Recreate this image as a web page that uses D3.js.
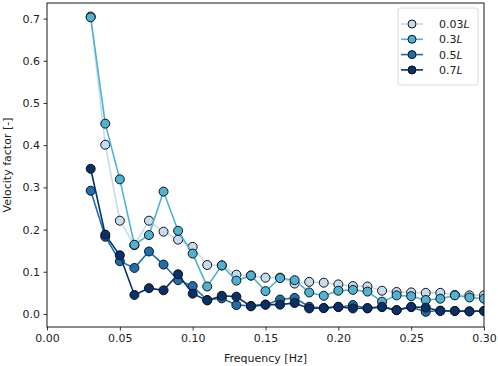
<!DOCTYPE html>
<html>
<head>
<meta charset="utf-8">
<script src="https://cdn.jsdelivr.net/npm/d3@7"></script>
<style>
  body { margin: 0; background: #fff; }
  text { font-family: "DejaVu Sans", sans-serif; fill: #222; }
</style>
</head>
<body>
<div id="chart"></div>
<script>
// frequencies [Hz]
var freq = [0.03, 0.04, 0.05, 0.06, 0.07, 0.08, 0.09, 0.10, 0.11, 0.12, 0.13, 0.14, 0.15, 0.16,
            0.17, 0.18, 0.19, 0.20, 0.21, 0.22, 0.23, 0.24, 0.25, 0.26, 0.27, 0.28, 0.29, 0.30];

var v003 = [0.705, 0.401, 0.221, 0.163, 0.221, 0.195, 0.176, 0.159, 0.116, 0.115, 0.093, 0.091, 0.086, 0.086,
            0.072, 0.076, 0.074, 0.070, 0.066, 0.065, 0.055, 0.052, 0.051, 0.050, 0.050, 0.045, 0.044, 0.044];
var v03  = [0.703, 0.451, 0.319, 0.164, 0.187, 0.290, 0.197, 0.143, 0.065, 0.115, 0.079, 0.091, 0.054, 0.085,
            0.080, 0.051, 0.043, 0.055, 0.057, 0.053, 0.029, 0.044, 0.042, 0.033, 0.036, 0.044, 0.039, 0.036];
var v05  = [0.292, 0.183, 0.125, 0.109, 0.148, 0.117, 0.080, 0.066, 0.033, 0.037, 0.021, 0.019, 0.022, 0.034,
            0.038, 0.017, 0.014, 0.016, 0.021, 0.013, 0.016, 0.009, 0.016, 0.005, 0.008, 0.007, 0.006, 0.007];
var v07  = [0.344, 0.188, 0.139, 0.045, 0.061, 0.056, 0.094, 0.048, 0.032, 0.043, 0.041, 0.018, 0.022, 0.022,
            0.026, 0.013, 0.014, 0.017, 0.013, 0.014, 0.017, 0.009, 0.017, 0.015, 0.007, 0.007, 0.006, 0.007];

var seriesNames = ["0.03", "0.3", "0.5", "0.7"];
var seriesValues = [v003, v03, v05, v07];
var colors = ["#c6dbef", "#4eb3d3", "#1f6fae", "#08306b"];

var xTicks = [0.00, 0.05, 0.10, 0.15, 0.20, 0.25, 0.30];
var yTicks = [0.0, 0.1, 0.2, 0.3, 0.4, 0.5, 0.6, 0.7];

function init() {
    var W = 498, H = 366;
    var margin = {top: 3, right: 14, bottom: 39, left: 47};
    var w = W - margin.left - margin.right;
    var h = H - margin.top - margin.bottom;

    var svg = d3.select("#chart")
        .append("svg")
        .attr("width", W)
        .attr("height", H);

    var g = svg.append("g")
        .attr("transform", "translate(" + margin.left + "," + margin.top + ")");

    var xScale = d3.scaleLinear().domain([0, 0.30]).range([0, w]);
    var yScale = d3.scaleLinear().domain([-0.031, 0.737]).range([h, 0]);

    svg.append("defs").append("clipPath").attr("id", "clip")
        .append("rect").attr("width", w).attr("height", h);

    // axes
    var xAxis = g.append("g")
        .attr("transform", "translate(0," + h + ")")
        .call(d3.axisBottom(xScale).tickValues(xTicks).tickFormat(d3.format(".2f")).tickSize(3.5).tickPadding(3.5));
    var yAxis = g.append("g")
        .call(d3.axisLeft(yScale).tickValues(yTicks).tickFormat(d3.format(".1f")).tickSize(3.5).tickPadding(3.5));
    [xAxis, yAxis].forEach(function(a) {
        a.select(".domain").remove();
        a.selectAll("line").attr("stroke", "#000").attr("stroke-width", 0.8);
        a.selectAll("text").style("font-size", "11px").attr("fill", "#222");
    });

    var plot = g.append("g").attr("clip-path", "url(#clip)");

    var line = d3.line()
        .x(function(d, i) { return xScale(freq[i]); })
        .y(function(d) { return yScale(d); });

    seriesValues.forEach(function(vals, k) {
        var sg = plot.append("g");
        sg.append("path")
            .datum(vals)
            .attr("d", line)
            .attr("fill", "none")
            .attr("stroke", colors[k])
            .attr("stroke-width", 1.6);
        sg.selectAll("circle")
            .data(vals)
            .enter()
            .append("circle")
            .attr("cx", function(d, i) { return xScale(freq[i]); })
            .attr("cy", function(d) { return yScale(d); })
            .attr("r", 4.5)
            .attr("fill", colors[k])
            .attr("stroke", "#111")
            .attr("stroke-width", 1);
    });

    // frame
    g.append("rect")
        .attr("width", w).attr("height", h)
        .attr("fill", "none").attr("stroke", "#000").attr("stroke-width", 0.9);

    // axis labels
    g.append("text")
        .attr("x", w / 2).attr("y", h + 35)
        .attr("text-anchor", "middle")
        .style("font-size", "11px")
        .text("Frequency [Hz]");
    g.append("text")
        .attr("transform", "translate(" + (-36) + "," + (h / 2) + ") rotate(-90)")
        .attr("text-anchor", "middle")
        .style("font-size", "11px")
        .text("Velocity factor [-]");

    // legend
    var lg = g.append("g").attr("transform", "translate(" + (398 - margin.left) + "," + (8 - margin.top) + ")");
    lg.append("rect")
        .attr("width", 80).attr("height", 77).attr("rx", 2)
        .attr("fill", "#fff").attr("fill-opacity", 0.8)
        .attr("stroke", "#d0d0d0").attr("stroke-width", 0.8);
    seriesNames.forEach(function(name, k) {
        var yy = 16 + k * 15.3;
        lg.append("line")
            .attr("x1", 3).attr("x2", 25).attr("y1", yy).attr("y2", yy)
            .attr("stroke", colors[k]).attr("stroke-width", 1.6);
        lg.append("circle")
            .attr("cx", 14).attr("cy", yy).attr("r", 4)
            .attr("fill", colors[k]).attr("stroke", "#111").attr("stroke-width", 1);
        var t = lg.append("text")
            .attr("x", 41).attr("y", yy + 4)
            .style("font-size", "11px");
        t.append("tspan").text(name);
        t.append("tspan").style("font-style", "italic").text("L");
    });
}

window.onload = init;
</script>
</body>
</html>
